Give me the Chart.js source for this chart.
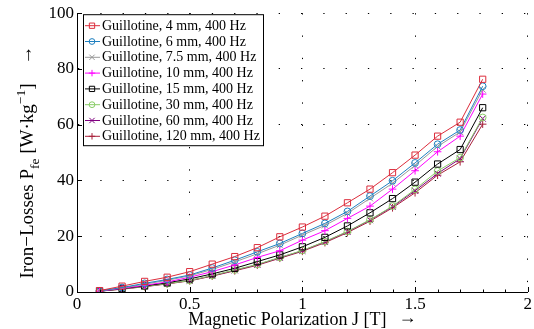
<!DOCTYPE html>
<html>
<head>
<meta charset="utf-8">
<script src="https://cdn.jsdelivr.net/npm/chart.js@4/dist/chart.umd.min.js"></script>
<style>
html,body{margin:0;padding:0;background:#fff;}
#wrap{width:534px;height:329px;position:relative;}
</style>
</head>
<body>
<div id="wrap"><canvas id="c" width="534" height="329"></canvas></div>
<script>
// ---- data ----
const J = [0.1,0.2,0.3,0.4,0.5,0.6,0.7,0.8,0.9,1.0,1.1,1.2,1.3,1.4,1.5,1.6,1.7,1.8];
const seriesNames = [
  'Guillotine, 4 mm, 400 Hz','Guillotine, 6 mm, 400 Hz','Guillotine, 7.5 mm, 400 Hz',
  'Guillotine, 10 mm, 400 Hz','Guillotine, 15 mm, 400 Hz','Guillotine, 30 mm, 400 Hz',
  'Guillotine, 60 mm, 400 Hz','Guillotine, 120 mm, 400 Hz'
];
const g4   = [0.5,2.1,3.8,5.3,7.3,10.0,12.7,15.9,19.8,23.3,27.2,32.0,36.9,42.8,49.1,55.9,60.9,76.3];
const g6   = [0.4,1.6,3.1,4.5,6.1,8.6,11.4,14.4,17.4,21.0,24.6,28.9,34.4,39.9,46.3,53.0,58.1,73.8];
const g7_5 = [0.4,1.5,2.8,4.2,5.8,8.1,10.8,13.7,16.8,20.4,23.9,28.2,33.6,39.0,45.4,52.2,57.4,72.6];
const g10  = [0.3,1.3,2.4,3.6,5.3,7.3,9.7,12.4,14.8,18.6,22.0,26.4,30.8,36.9,43.5,50.3,55.9,71.0];
const g15  = [0.3,1.2,2.2,3.3,4.7,6.5,8.5,10.9,13.3,16.2,19.6,23.7,28.4,33.5,39.4,45.9,51.1,66.1];
const g30  = [0.3,1.1,2.0,3.0,4.1,5.9,7.9,9.9,12.4,14.9,18.1,21.7,25.9,30.8,36.8,43.4,48.2,62.6];
const g60  = [0.3,1.1,2.0,3.0,4.1,5.8,7.8,9.8,12.3,14.8,18.0,21.6,25.8,30.6,36.3,42.5,47.8,62.2];
const g120 = [0.3,1.0,1.9,2.9,4.0,5.7,7.6,9.6,12.1,14.6,17.7,21.3,25.4,30.2,35.6,41.9,46.7,60.2];
const xTicks = [0,0.5,1,1.5,2];
const yTicks = [0,20,40,60,80,100];

// ---- styles ----
const colors = ['#DC2D3C','#1F80C0','#999999','#FF00FF','#000000','#88CC66','#800080','#A8203A'];
const markers = ['rect','circle','crossRot','cross','rect','circle','crossRot','cross'];
const radii = [4.4,3.4,4.4,3.8,4.4,3.4,4.4,3.8];
const allSeries = [g4,g6,g7_5,g10,g15,g30,g60,g120];
const FONT = "'Liberation Serif', serif";

const datasets = allSeries.map((s,i)=>({
  label: seriesNames[i],
  data: J.map((x,k)=>({x:x,y:s[k]})),
  borderColor: colors[i],
  backgroundColor: 'rgba(0,0,0,0)',
  pointBorderColor: colors[i],
  pointBackgroundColor: 'rgba(0,0,0,0)',
  pointStyle: markers[i],
  pointRadius: radii[i],
  pointBorderWidth: 1,
  borderWidth: 1,
  tension: 0,
  fill: false
}));

function marker(ctx, style, r, x, y){
  ctx.beginPath();
  if(style==='rect'){ const s=r*Math.SQRT1_2; ctx.rect(x-s,y-s,2*s,2*s); }
  else if(style==='circle'){ ctx.arc(x,y,r,0,Math.PI*2); }
  else if(style==='cross'){ ctx.moveTo(x-r,y); ctx.lineTo(x+r,y); ctx.moveTo(x,y-r); ctx.lineTo(x,y+r); }
  else { const s=r*Math.SQRT1_2; ctx.moveTo(x-s,y-s); ctx.lineTo(x+s,y+s); ctx.moveTo(x-s,y+s); ctx.lineTo(x+s,y-s); }
  ctx.stroke();
}

const deco = {
  id:'deco',
  afterDraw(chart){
    const ctx = chart.ctx, ca = chart.chartArea;
    const xs = chart.scales.x, ys = chart.scales.y;
    ctx.save();
    // inward ticks
    ctx.strokeStyle = '#000'; ctx.lineWidth = 1;
    ctx.beginPath();
    xTicks.forEach(v=>{ const p = Math.round(xs.getPixelForValue(v))+0.5; ctx.moveTo(p, ca.bottom); ctx.lineTo(p, ca.bottom-5); });
    yTicks.forEach(v=>{ const p = Math.round(ys.getPixelForValue(v))+0.5; ctx.moveTo(ca.left, p); ctx.lineTo(ca.left+5, p); });
    ctx.stroke();
    ctx.beginPath();
    for(let k=1; k<20; k++){ const p = Math.round(xs.getPixelForValue(k/10))+0.5; ctx.moveTo(p, ca.bottom); ctx.lineTo(p, ca.bottom-2.5); }
    ctx.stroke();

    // legend
    const lx = ca.left + 6, ly = ca.top + 1, lw = 180, lh = 131, rowH = 15.8;
    ctx.fillStyle = '#fff'; ctx.fillRect(lx, ly, lw, lh);
    ctx.strokeStyle = '#000'; ctx.lineWidth = 1;
    ctx.strokeRect(lx+0.5, ly+0.5, lw, lh);
    ctx.font = '14px ' + FONT; ctx.textBaseline = 'middle'; ctx.textAlign='left';
    chart.data.datasets.forEach((d,i)=>{
      const y = ly + 11 + i*rowH;
      ctx.strokeStyle = d.borderColor; ctx.lineWidth = 1;
      ctx.beginPath(); ctx.moveTo(lx+2, y+0.5); ctx.lineTo(lx+17, y+0.5); ctx.stroke();
      marker(ctx, d.pointStyle, d.pointRadius*0.85, lx+9, y+0.5);
      ctx.fillStyle = '#000';
      ctx.fillText(d.label, lx+19, y+1);
    });

    // x title
    ctx.fillStyle = '#000';
    ctx.font = '18px ' + FONT; ctx.textBaseline='alphabetic'; ctx.textAlign='left';
    const xt = 'Magnetic Polarization J [T]', arrow = '\u2192';
    const w1 = ctx.measureText(xt).width, gap = 12, w2 = ctx.measureText(arrow).width;
    const tot = w1+gap+w2; const cx = (ca.left+ca.right)/2;
    ctx.fillText(xt, cx - tot/2, 325);
    ctx.fillText(arrow, cx - tot/2 + w1 + gap, 323);

    // y title rotated
    ctx.translate(33, 162);
    ctx.rotate(-Math.PI/2);
    const big = '19px ' + FONT, small = '13.5px ' + FONT;
    const parts = [
      {t:'Iron\u2212Losses P', f:big, dy:0},
      {t:'fe', f:small, dy:6},
      {t:' [W\u00b7kg', f:big, dy:0},
      {t:'\u22121', f:small, dy:-8},
      {t:']', f:big, dy:0},
      {t:'\u2003\u2192', f:big, dy:-1}
    ];
    let W=0; parts.forEach(p=>{ctx.font=p.f; p.w=ctx.measureText(p.t).width; W+=p.w;});
    let x = -W/2;
    parts.forEach(p=>{ctx.font=p.f; ctx.fillText(p.t, x, p.dy); x+=p.w;});
    ctx.restore();
  }
};

new Chart(document.getElementById('c'), {
  type:'line',
  data:{datasets},
  plugins:[deco],
  options:{
    responsive:false, animation:false, devicePixelRatio:1,
    layout:{padding:{top:13,right:2,left:0,bottom:0}},
    plugins:{legend:{display:false}, tooltip:{enabled:false}},
    scales:{
      x:{type:'linear', min:0, max:2,
         afterBuildTicks(s){ s.ticks = xTicks.map(v=>({value:v})); },
         afterFit(s){ s.height = 37; },
         ticks:{color:'#000', font:{family:FONT, size:17}, padding:2, maxRotation:0,
                callback:(v)=>String(v)},
         grid:{color:'#000', lineWidth:1, drawTicks:false},
         border:{display:true, color:'#000', width:1, dash:[1.3,21]}
      },
      y:{type:'linear', min:0, max:100,
         afterBuildTicks(s){ s.ticks = yTicks.map(v=>({value:v})); },
         afterFit(s){ s.width = 77; },
         ticks:{color:'#000', font:{family:FONT, size:17}, padding:3,
                callback:(v)=>String(v)},
         grid:{color:'#000', lineWidth:1, drawTicks:false},
         border:{display:true, color:'#000', width:1, dash:[1.3,21]}
      }
    }
  }
});
</script>
</body>
</html>
